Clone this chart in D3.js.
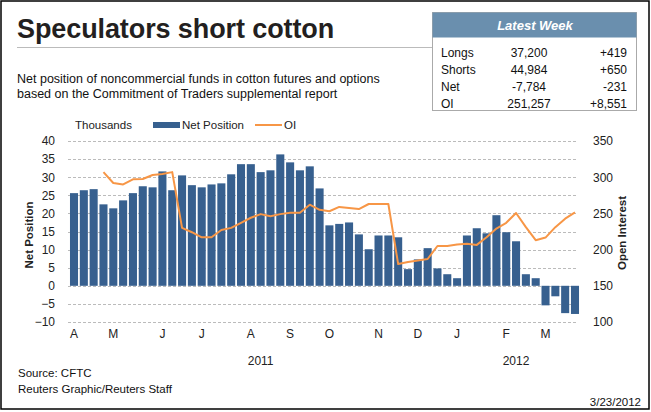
<!DOCTYPE html>
<html>
<head>
<meta charset="utf-8">
<script src="https://cdn.jsdelivr.net/npm/d3@7"></script>
<style>
  body { margin: 0; background: #fff; }
  svg { display: block; font-family: "Liberation Sans", Arial, sans-serif; }
</style>
</head>
<body>
<div id="chart"></div>
<script>
// weekly COT data, Apr 2011 - Mar 2012 (thousands of contracts)
const netPosition = [25.6, 26.4, 26.7, 22.5, 21.4, 23.6, 25.6, 27.5, 27.2, 31.6,
  26.4, 30.5, 27.8, 27.2, 28.0, 28.3, 30.8, 33.6, 33.6, 31.4,
  31.9, 36.3, 34.1, 31.9, 33.0, 26.9, 16.7, 17.1, 17.5, 14.2,
  10.1, 13.9, 13.9, 13.4, 4.6, 7.3, 10.4, 4.8, 3.2, 2.1,
  13.9, 15.9, 14.5, 19.5, 14.8, 12.3, 3.2, 2.1, -5.4, -2.9,
  -7.55, -7.78];
const openInterest = [null, null, null, 307, 292, 290, 297, 297.5, 303, 304.4,
  307, 230, 224, 217, 217, 227, 230, 237, 244, 249,
  246, 249, 251, 251, 262, 255, 253, 259, 257.5, 256,
  263, 263, 263, 180, 183, 185, 187, 205, 205, 207,
  208, 206.5, 217, 229, 237, 250.6, 231, 213, 216.6, 231,
  242.7, 251.3];
// month initials and the week index they sit under
const monthLabels = ["A", "M", "J", "J", "A", "S", "O", "N", "D", "J", "F", "M"];
const monthIndex = [0, 4, 9, 13, 18, 22, 26, 31, 35, 39, 44, 48];
const yearLabels = ["2011", "2012"];
const yearIndex = [19, 45];
const leftTicks = [-10, -5, 0, 5, 10, 15, 20, 25, 30, 35, 40];
const rightTicks = [100, 150, 200, 250, 300, 350];
// latest week table
const tableRows = ["Longs", "Shorts", "Net", "OI"];
const tableValues = ["37,200", "44,984", "-7,784", "251,257"];
const tableChanges = ["+419", "+650", "-231", "+8,551"];

const W = 651, H = 412;
const BLUE = "#37608f", ORANGE = "#f79646";

const svg = d3.select("#chart").append("svg")
  .attr("width", W).attr("height", H);

svg.append("rect").attr("x", 1).attr("y", 1)
  .attr("width", W - 3).attr("height", H - 4)
  .attr("fill", "#fff").attr("stroke", "#000").attr("stroke-width", 1.5);

// ── header ─────────────────────────────
svg.append("text").attr("x", 17).attr("y", 38)
  .attr("font-size", 27).attr("font-weight", "bold").attr("fill", "#231f20")
  .attr("letter-spacing", -0.1)
  .text("Speculators short cotton");

svg.append("line").attr("x1", 17).attr("x2", 432).attr("y1", 47.5).attr("y2", 47.5)
  .attr("stroke", "#bbb");

svg.selectAll("text.sub")
  .data(["Net position of noncommercial funds in cotton futures and options",
         "based on the Commitment of Traders supplemental report"])
  .join("text").attr("class", "sub")
  .attr("x", 17).attr("y", (d, i) => 83 + i * 15)
  .attr("font-size", 12.5).attr("fill", "#111")
  .text(d => d);

// latest week box
const tb = svg.append("g");
tb.append("rect").attr("x", 432.5).attr("y", 12.5).attr("width", 204).attr("height", 98)
  .attr("fill", "#fff").attr("stroke", "#aaa");
tb.append("rect").attr("x", 432.5).attr("y", 12.5).attr("width", 204).attr("height", 25)
  .attr("fill", "#6a8fae");
tb.append("text").attr("x", 535).attr("y", 29.5).attr("text-anchor", "middle")
  .attr("font-size", 13).attr("font-weight", "bold").attr("font-style", "italic")
  .attr("fill", "#fff").text("Latest Week");
const rowY = i => 57 + i * 17;
tb.selectAll("text.lab").data(tableRows).join("text").attr("class", "lab")
  .attr("x", 441).attr("y", (d, i) => rowY(i)).attr("font-size", 12).attr("fill", "#111")
  .text(d => d);
tb.selectAll("text.val").data(tableValues).join("text").attr("class", "val")
  .attr("x", 529).attr("y", (d, i) => rowY(i)).attr("text-anchor", "middle")
  .attr("font-size", 12).attr("fill", "#111").text(d => d);
tb.selectAll("text.chg").data(tableChanges).join("text").attr("class", "chg")
  .attr("x", 627).attr("y", (d, i) => rowY(i)).attr("text-anchor", "end")
  .attr("font-size", 12).attr("fill", "#111").text(d => d);

// ── chart ──────────────────────────────
const x = d3.scaleBand().domain(d3.range(netPosition.length))
  .range([69, 580]).paddingInner(0.18).paddingOuter(0.1);
const y = d3.scaleLinear().domain([-10, 40]).range([322, 141]);
const y2 = d3.scaleLinear().domain([100, 350]).range([322, 141]);

// gridlines
svg.append("g").selectAll("line").data(leftTicks).join("line")
  .attr("x1", 68).attr("x2", 578)
  .attr("y1", d => Math.round(y(d)) + 0.5).attr("y2", d => Math.round(y(d)) + 0.5)
  .attr("stroke", "#bbb").attr("stroke-dasharray", "3,2");

// left axis
const yAxis = svg.append("g").attr("transform", "translate(57,0)")
  .call(d3.axisLeft(y).tickValues(leftTicks).tickSize(0).tickPadding(2));
yAxis.select(".domain").remove();
yAxis.selectAll("text").attr("font-size", 12).attr("fill", "#222")
  .attr("font-family", "Liberation Sans, Arial, sans-serif");

// right axis
const y2Axis = svg.append("g").attr("transform", "translate(591,0)")
  .call(d3.axisRight(y2).tickValues(rightTicks).tickSize(0).tickPadding(2));
y2Axis.select(".domain").remove();
y2Axis.selectAll("text").attr("font-size", 12).attr("fill", "#222")
  .attr("font-family", "Liberation Sans, Arial, sans-serif");

svg.append("text").attr("transform", "translate(33,235) rotate(-90)")
  .attr("text-anchor", "middle").attr("font-size", 11.5).attr("font-weight", "bold")
  .attr("fill", "#222").text("Net Position");
svg.append("text").attr("transform", "translate(626,233) rotate(-90)")
  .attr("text-anchor", "middle").attr("font-size", 11.5).attr("font-weight", "bold")
  .attr("fill", "#222").text("Open Interest");

// bars
svg.append("g").selectAll("rect").data(netPosition).join("rect")
  .attr("x", (d, i) => x(i))
  .attr("width", x.bandwidth())
  .attr("y", d => y(Math.max(0, d)))
  .attr("height", d => Math.abs(y(d) - y(0)))
  .attr("fill", BLUE);

// OI line
const line = d3.line()
  .defined(d => d != null)
  .x((d, i) => x(i) + x.bandwidth() / 2)
  .y(d => y2(d));
svg.append("path").datum(openInterest)
  .attr("d", line).attr("fill", "none")
  .attr("stroke", ORANGE).attr("stroke-width", 2).attr("stroke-linejoin", "round");

// x labels
svg.append("g").selectAll("text").data(monthLabels).join("text")
  .attr("x", (d, i) => x(monthIndex[i]) + x.bandwidth() / 2)
  .attr("y", 338).attr("text-anchor", "middle")
  .attr("font-size", 12).attr("fill", "#222").text(d => d);
svg.append("g").selectAll("text").data(yearLabels).join("text")
  .attr("x", (d, i) => x(yearIndex[i]) + x.bandwidth() / 2)
  .attr("y", 365).attr("text-anchor", "middle")
  .attr("font-size", 12).attr("fill", "#222").text(d => d);

// legend
const lg = svg.append("g").attr("font-size", 11.5).attr("fill", "#222");
lg.append("text").attr("x", 75).attr("y", 129).text("Thousands");
lg.append("rect").attr("x", 153).attr("y", 122).attr("width", 27).attr("height", 6).attr("fill", BLUE);
lg.append("text").attr("x", 182).attr("y", 129).text("Net Position");
lg.append("line").attr("x1", 255).attr("x2", 282).attr("y1", 125).attr("y2", 125)
  .attr("stroke", ORANGE).attr("stroke-width", 2);
lg.append("text").attr("x", 284).attr("y", 129).text("OI");

// footer
svg.append("text").attr("x", 18).attr("y", 377).attr("font-size", 11.5).attr("fill", "#111")
  .text("Source: CFTC");
svg.append("text").attr("x", 18).attr("y", 393).attr("font-size", 11.5).attr("fill", "#111")
  .text("Reuters Graphic/Reuters Staff");
svg.append("text").attr("x", 641).attr("y", 406).attr("text-anchor", "end")
  .attr("font-size", 11.5).attr("fill", "#111").text("3/23/2012");
</script>
</body>
</html>
